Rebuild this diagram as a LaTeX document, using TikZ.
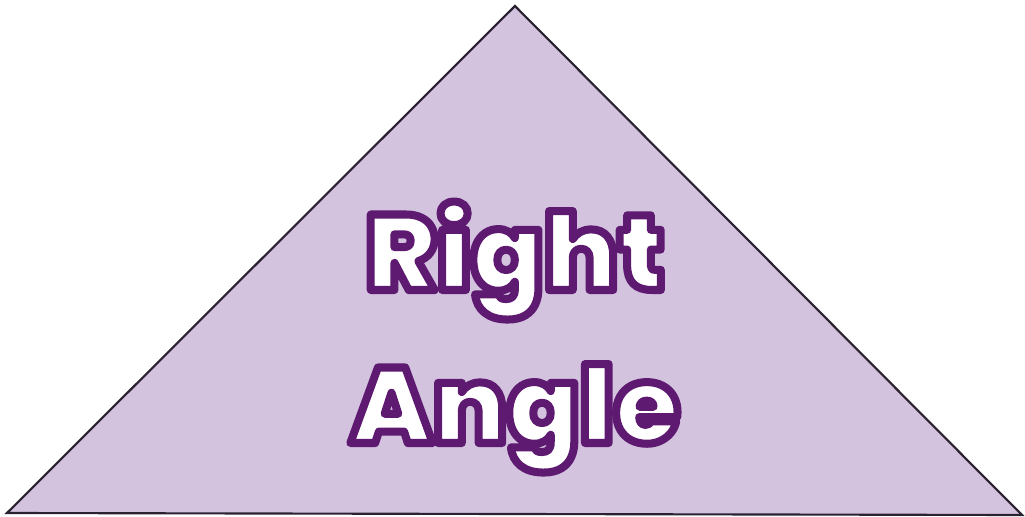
\documentclass[tikz,border=0pt]{standalone}
\usepackage{fontspec}
\setmainfont{Poppins}
\newfontfamily\wordfont{Poppins}[UprightFont=* Black]
\definecolor{trifill}{HTML}{D3C3DF}
\definecolor{triedge}{HTML}{2A2230}
\definecolor{wordedge}{HTML}{5E1A70}
% white letters with a purple outline (pdf text render mode 2)
\newcommand\outlined[1]{\special{pdf:literal direct 2 Tr 6 w 1 j 0.369 0.102 0.439 RG 1 g}#1\special{pdf:literal direct 0 Tr}}
\tikzset{
  word/.style={anchor=base,inner sep=0pt,text=white,font=\fontsize{80}{100}\selectfont\wordfont},
}
\begin{document}
\begin{tikzpicture}[x=0.75pt,y=-0.75pt]
\useasboundingbox (0,0) rectangle (1025,517);
% triangle
\coordinate (left) at (7,513);
\coordinate (apex) at (515,6);
\coordinate (right) at (1022,515);
\filldraw[fill=trifill,draw=triedge,line width=1.6pt,line join=miter] (left)--(apex)--(right)--cycle;
% words
\node[word] (rw) at (515,290) {\outlined{Right}};
\node[word] (aw) at (515,443) {\outlined{Angle}};
\end{tikzpicture}
\end{document}
